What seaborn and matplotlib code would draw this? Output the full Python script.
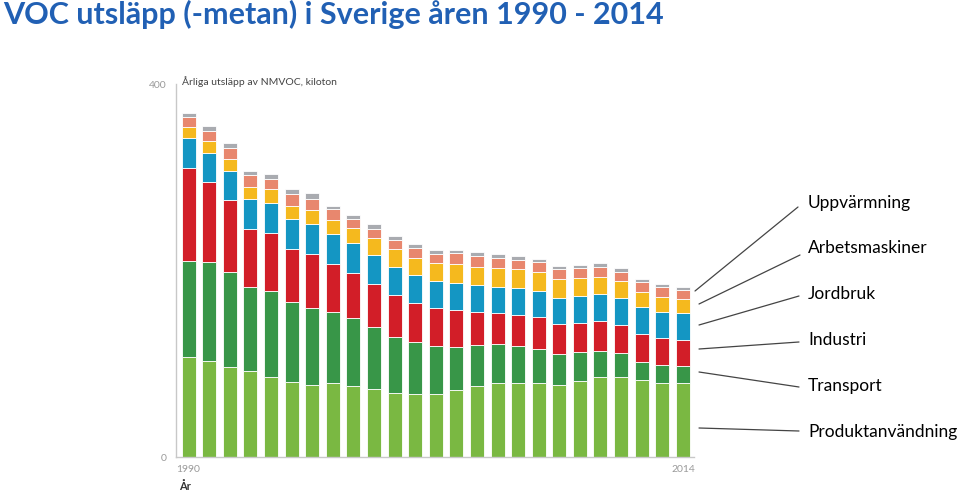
import numpy as np
import pandas as pd
import seaborn as sns
import matplotlib.pyplot as plt
from matplotlib.lines import Line2D

# Annual NMVOC emissions per sector, kiloton
years = list(range(1990, 2015))
produktanvandning = [107.6, 102.9, 96.8, 92.2, 86.1, 80.8, 76.9, 79.7, 76.5, 72.9, 69.0, 67.6, 67.6,
                     71.8, 76.1, 79.7, 79.7, 79.0, 77.2, 81.5, 85.5, 86.1, 82.6, 79.7, 79.7]
transport = [102.6, 105.8, 101.2, 90.1, 92.2, 85.5, 82.9, 75.5, 72.3, 67.0, 60.1, 55.4, 51.5,
             46.4, 44.0, 41.5, 39.4, 36.5, 33.2, 31.4, 28.5, 25.1, 19.6, 19.0, 17.9]
industri = [99.4, 86.4, 77.5, 61.9, 61.6, 56.5, 57.9, 51.5, 48.3, 45.6, 44.7, 42.5, 40.4,
            39.4, 35.7, 32.9, 33.2, 34.3, 31.8, 31.1, 31.8, 30.3, 29.7, 28.6, 27.9]
jordbruk = [32.8, 31.1, 31.4, 32.5, 32.8, 32.2, 32.2, 32.2, 32.2, 31.1, 30.3, 29.7, 29.3,
            29.3, 28.6, 28.5, 29.3, 28.2, 28.5, 29.0, 28.6, 29.3, 29.3, 28.5, 29.3]
arbetsmaskiner = [11.2, 12.2, 12.5, 13.2, 14.4, 14.6, 15.0, 15.3, 16.1, 17.9, 18.7, 18.6, 19.0,
                  20.1, 19.6, 19.7, 19.7, 20.1, 20.4, 19.3, 18.9, 17.9, 16.1, 16.1, 14.4]
uppvarmning = [10.7, 11.0, 12.5, 12.5, 11.0, 12.2, 11.8, 11.5, 9.7, 9.7, 10.0, 10.1, 10.0,
               11.5, 11.8, 11.4, 10.0, 10.7, 10.4, 10.7, 10.7, 10.0, 10.7, 10.7, 10.0]
ovrigt = [4.9, 5.4, 4.9, 4.6, 5.4, 6.0, 6.8, 3.9, 4.6, 5.4, 4.3, 4.6, 4.3,
          3.5, 4.0, 4.0, 4.3, 3.2, 3.2, 3.2, 3.6, 3.6, 2.6, 2.9, 2.9]

sectors = ["Produktanvändning", "Transport", "Industri", "Jordbruk",
           "Arbetsmaskiner", "Uppvärmning", "Övrigt"]
colors = ["#7ab842", "#389648", "#d21e28", "#1496c3", "#f5b91e", "#e8876e", "#a9abb0"]

df = pd.DataFrame({
    "År": [str(y) for y in years],
    "Produktanvändning": produktanvandning,
    "Transport": transport,
    "Industri": industri,
    "Jordbruk": jordbruk,
    "Arbetsmaskiner": arbetsmaskiner,
    "Uppvärmning": uppvarmning,
    "Övrigt": ovrigt,
})

sns.set_theme(style="white")
plt.rcParams["font.family"] = ["Lato", "DejaVu Sans"]

W, H = 960, 494
fig = plt.figure(figsize=(W / 100, H / 100), dpi=100)
ax = fig.add_axes([176 / W, 1 - 457 / H, (694 - 176) / W, (457 - 84) / H])

bottom = np.zeros(len(df))
for s, c in zip(sectors, colors):
    sns.barplot(data=df, x="År", y=s, color=c, saturation=1, width=0.68,
                bottom=bottom.copy(), errorbar=None, edgecolor="white",
                linewidth=0.6, ax=ax)
    bottom += df[s].values

ax.set_xlim(-0.61, 24.54)
ax.set_ylim(0, 400)
ax.set_xticks([0, 24])
ax.set_xticklabels(["1990", "2014"])
ax.set_yticks([0, 400])
ax.set_xlabel("")
ax.set_ylabel("")
ax.tick_params(length=0, colors="#9a9a9a", labelsize=7.5)
ax.tick_params(axis="x", pad=6)
ax.tick_params(axis="y", pad=7)
for sp in ["top", "right"]:
    ax.spines[sp].set_visible(False)
for sp in ["left", "bottom"]:
    ax.spines[sp].set_color("#c8c8c8")
    ax.spines[sp].set_linewidth(1)

fig.text(3 / W, 1 - 14 / H, "VOC utsläpp (-metan) i Sverige åren 1990 - 2014",
         fontsize=22, fontweight="bold", color="#2160b4", ha="left", va="center")
fig.text(182 / W, 1 - 82 / H, "Årliga utsläpp av NMVOC, kiloton",
         fontsize=7.5, color="#444444", ha="left", va="center")
fig.text(179 / W, 1 - 486 / H, "År", fontsize=8, fontweight="bold",
         color="#333333", ha="left", va="center")

# callout labels with leader lines (pixel positions)
callouts = [
    ("Uppvärmning", 203, (798, 207), (695, 291)),
    ("Arbetsmaskiner", 248, (800, 255), (699, 304)),
    ("Jordbruk", 294, (799, 296), (699, 325)),
    ("Industri", 340, (799, 342), (699, 349)),
    ("Transport", 386, (799, 387), (699, 372)),
    ("Produktanvändning", 432, (799, 431), (699, 428)),
]
for label, ty, p0, p1 in callouts:
    fig.text(808 / W, 1 - ty / H, label, fontsize=12.5, color="black",
             ha="left", va="center")
    fig.add_artist(Line2D([p0[0] / W, p1[0] / W], [1 - p0[1] / H, 1 - p1[1] / H],
                          transform=fig.transFigure, color="#444444", lw=0.9))

fig.savefig("out.png", dpi=100)
